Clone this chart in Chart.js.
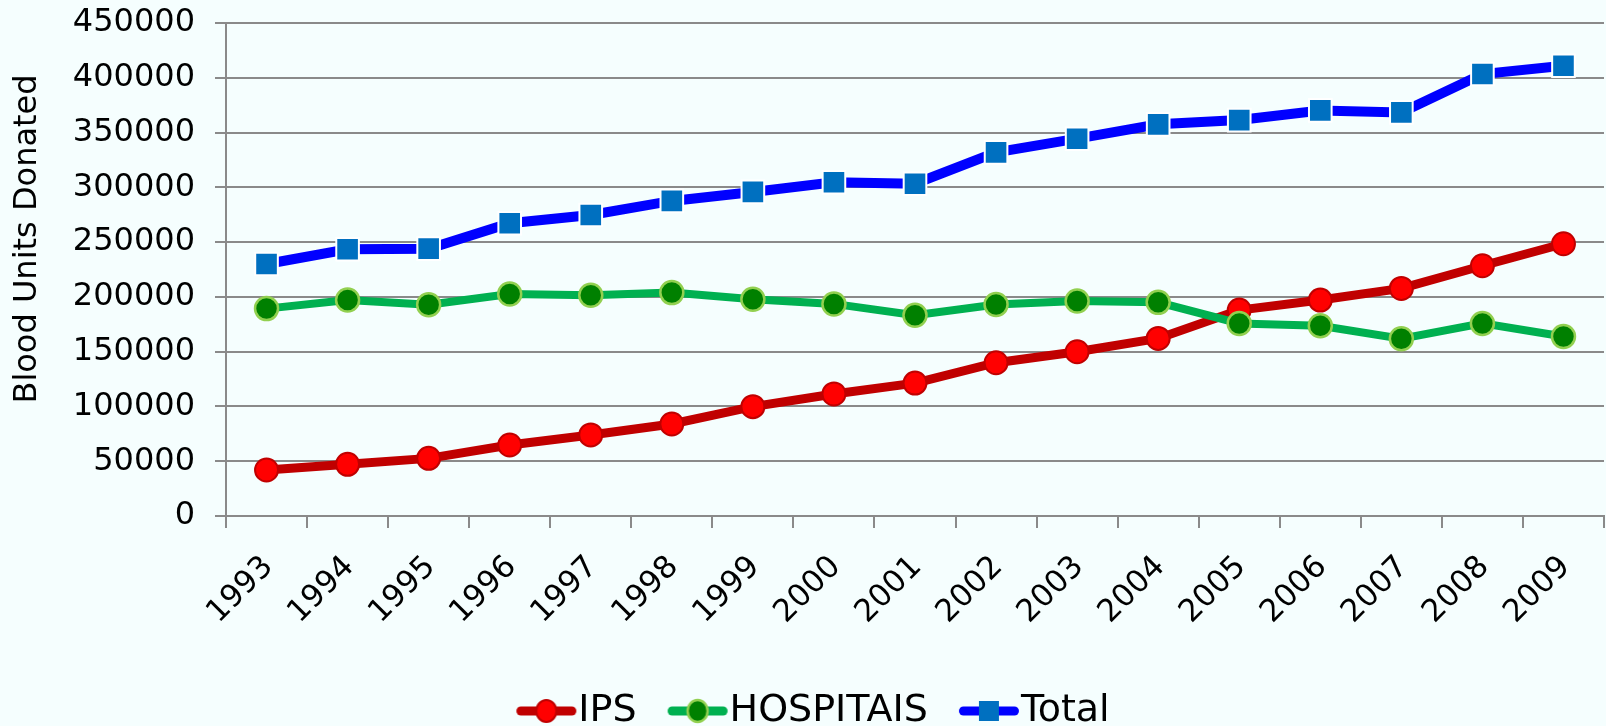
<!DOCTYPE html>
<html><head><meta charset="utf-8">
<script src="https://cdn.jsdelivr.net/npm/chart.js@4.4.1/dist/chart.umd.min.js"></script>
<style>html,body{margin:0;padding:0;background:#F5FEFE;overflow:hidden}#wrap{width:1606px;height:726px}</style>
</head><body><div id="wrap"><canvas id="c" width="1606" height="726"></canvas></div>
<script>
const years = ['1993','1994','1995','1996','1997','1998','1999','2000','2001','2002','2003','2004','2005','2006','2007','2008','2009'];
const ipsValues = [42000, 47200, 52600, 64800, 74000, 84000, 99800, 111400, 121300, 139900, 149900, 162100, 188000, 197100, 207700, 228400, 248500];
const hospitaisValues = [189300, 197200, 192900, 202700, 201500, 203900, 197800, 193600, 183300, 193100, 196200, 195000, 175800, 173600, 161800, 175800, 163900];
const totalValues = [230000, 243500, 244000, 267200, 274800, 287600, 295800, 304600, 303300, 331900, 344400, 357500, 361400, 370200, 368400, 403400, 411000];
const seriesNames = ['IPS', 'HOSPITAIS', 'Total'];
const yMin = 0, yMax = 450000, yStep = 50000;
const yTitle = 'Blood Units Donated';

const FONT = "'DejaVu Sans', Verdana, sans-serif";
const GRID = '#8A8A8A';
const LEG_FS = 38;
const LEG_W = 74;

const styles = [
  {line:'#C00000', lw:9, fill:'#FF0000', border:'#C00000', bw:2, shape:'circle', r:11.5},
  {line:'#00B050', lw:8, fill:'#008000', border:'#92D050', bw:2.5, shape:'circle', r:11.5},
  {line:'#0000FF', lw:10, fill:'#0070C0', border:'#FFFFFF', bw:2, shape:'rect', r:16}
];

function legendIcon(s){
  const w = LEG_W + 36, h = 30;
  const cv = document.createElement('canvas');
  cv.width = w; cv.height = h;
  const g = cv.getContext('2d');
  const cy = h/2;
  g.strokeStyle = s.line; g.lineWidth = 9; g.lineCap = 'round';
  g.beginPath(); g.moveTo(w - 56.5, cy); g.lineTo(w - 5.5, cy); g.stroke();
  const cx = w - 31;
  g.fillStyle = s.fill; g.strokeStyle = s.border; g.lineWidth = s.bw;
  if (s.shape === 'circle') {
    g.beginPath(); g.ellipse(cx, cy, 10, 11, 0, 0, Math.PI*2); g.fill(); g.stroke();
  } else {
    g.fillRect(cx-10, cy-10, 20, 20);
  }
  return cv;
}
const icons = styles.map(legendIcon);

const valueSets = [ipsValues, hospitaisValues, totalValues];
const datasets = valueSets.map((vals, i) => ({
  label: seriesNames[i],
  data: vals,
  borderColor: styles[i].line,
  borderWidth: styles[i].lw,
  backgroundColor: styles[i].fill,
  pointStyle: styles[i].shape,
  pointRadius: styles[i].r,
  pointHoverRadius: styles[i].r,
  pointBackgroundColor: styles[i].fill,
  pointBorderColor: styles[i].border,
  pointBorderWidth: styles[i].bw,
  tension: 0,
  fill: false,
  clip: false,
  order: i === 0 ? 1 : 0
}));

new Chart(document.getElementById('c'), {
  type: 'line',
  data: { labels: years, datasets },
  options: {
    responsive: false,
    animation: false,
    devicePixelRatio: 1,
    layout: { autoPadding: false, padding: { top: 23, right: 2, bottom: -14, left: -9 } },
    plugins: {
      tooltip: { enabled: false },
      legend: {
        position: 'bottom',
        align: 'center',
        labels: {
          usePointStyle: true,
          pointStyleWidth: LEG_W,
          padding: 0,
          color: '#000',
          font: { family: FONT, size: LEG_FS },
          sort: (a, b) => a.datasetIndex - b.datasetIndex,
          generateLabels: (chart) => {
            const items = Chart.defaults.plugins.legend.labels.generateLabels(chart);
            items.forEach(it => { it.pointStyle = icons[it.datasetIndex]; });
            return items;
          }
        }
      }
    },
    scales: {
      x: {
        type: 'category',
        offset: true,
        grid: { display: true, drawOnChartArea: false, drawTicks: true, tickLength: 12, offset: true, color: GRID, lineWidth: 2 },
        border: { display: true, color: GRID, width: 2 },
        ticks: { autoSkip: false, maxRotation: 45, minRotation: 45, color: '#000', font: { family: FONT, size: 31 }, padding: 21, labelOffset: 2 },
        afterFit: (s) => { s.height = 176; s.paddingLeft = 0; s.paddingRight = 0; }
      },
      y: {
        min: yMin, max: yMax,
        grid: { color: GRID, lineWidth: 2, tickLength: 11, drawTicks: true },
        border: { display: true, color: GRID, width: 2 },
        ticks: { stepSize: yStep, color: '#000', font: { family: FONT, size: 32 }, padding: 20, callback: (v) => String(v) },
        title: { display: true, text: '      ' + yTitle, color: '#000', font: { family: FONT, size: 32 }, padding: { top: 17, bottom: 0 } },
        afterFit: (s) => { s.width = 235; s.paddingTop = 0; s.paddingBottom = 0; }
      }
    }
  }
});
</script>
</body></html>
